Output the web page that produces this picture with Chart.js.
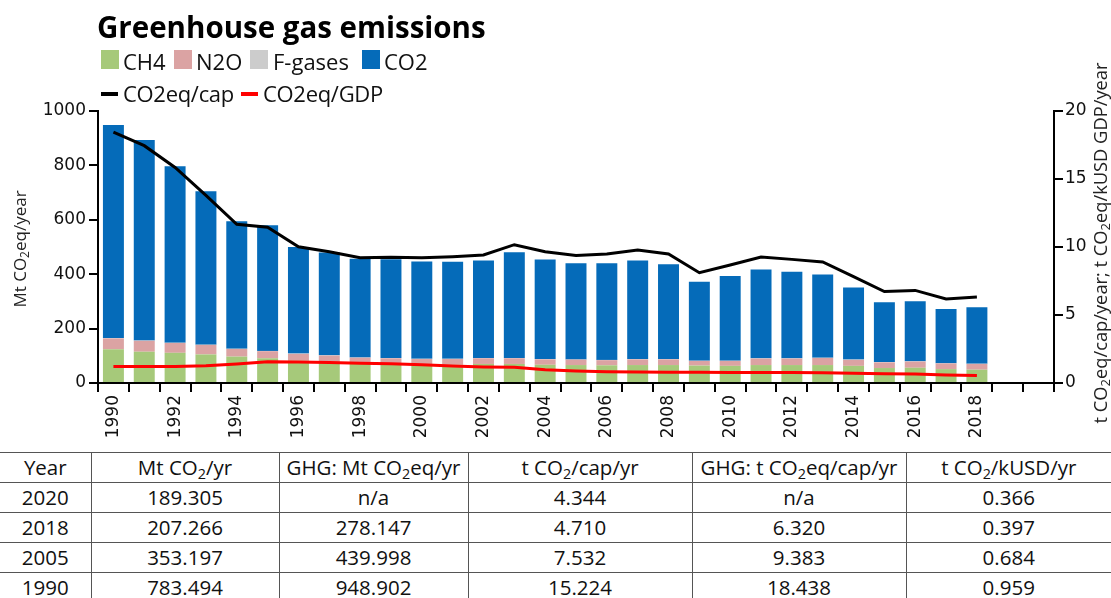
<!DOCTYPE html>
<html>
<head>
<meta charset="utf-8">
<script src="https://cdn.jsdelivr.net/npm/chart.js@4.4.1/dist/chart.umd.min.js"></script>
<style>
  html, body { margin: 0; padding: 0; background: #fff; width: 1111px; height: 598px; overflow: hidden; }
  #wrap { position: relative; width: 1111px; height: 598px; font-family: "Open Sans", sans-serif; color: #111; }
  #chart { position: absolute; left: 0; top: 0; }
  .title { position: absolute; left: 97px; top: 12px; font-size: 29.5px; line-height: 29.5px; font-weight: 700; color: #000; white-space: nowrap; }
  .lg { position: absolute; font-size: 22px; line-height: 22px; white-space: nowrap; color: #111; }
  .box { position: absolute; width: 18px; height: 19px; }
  .swatch { position: absolute; width: 17px; height: 4px; }
  table { position: absolute; left: 0; top: 452px; width: 1111px; border-collapse: collapse; table-layout: fixed;
          font-family: "Open Sans", sans-serif; font-size: 20.5px; color: #111; background: #fff; }
  td { border: 1px solid #555; height: 29px; padding: 0; line-height: 29px; text-align: center; white-space: nowrap; }
  tr td:first-child { border-left: none; }
  tr td:last-child { border-right: none; }
  sub { font-size: 70%; vertical-align: -0.25em; line-height: 0; }
</style>
</head>
<body>
<div id="wrap">
  <canvas id="chart" width="1111" height="452"></canvas>
  <div class="title">Greenhouse gas emissions</div>
  <div id="legend"></div>
  <table id="summary"></table>
</div>
<script>
// Years on the category axis
const years = ['1990','1991','1992','1993','1994','1995','1996','1997','1998','1999',
               '2000','2001','2002','2003','2004','2005','2006','2007','2008','2009',
               '2010','2011','2012','2013','2014','2015','2016','2017','2018','2019','2020'];

// Emissions by gas, Mt CO2eq/year (1990-2018)
const ch4  = [124,115,111,105,97,91,82,78,75,72,70,67,70,70,67,66,65,66,66,64,63,66,66,66,63,55,56,51,49];
const n2o  = [40,40,36,35,28,26,25,23,18,19,18,21,21,21,20,20,19,21,21,17,18,24,24,26,22,21,23,21,21];
const fgas = [1.4,1,1,1,1,1,1,1,1,1,1,1,1,1,1,0.8,1,1,1,1,1,1,1,1,1,1,1,1,0.9];
const co2  = [783.5,737,649,564,469,462,392,378,363,363,358,357,358,389,366,353.2,355,362,349,290,311,326,318,306,265,220,221,199,207.3];

// Intensity indicators (right axis)
const co2eqPerCap = [18.44,17.45,15.85,13.8,11.67,11.45,10.02,9.65,9.21,9.24,9.21,9.29,9.41,10.17,9.65,9.38,9.49,9.78,9.49,8.11,8.68,9.26,9.09,8.9,7.82,6.72,6.81,6.18,6.32];
const co2eqPerGdp = [1.22,1.22,1.22,1.27,1.4,1.57,1.54,1.5,1.45,1.42,1.35,1.25,1.18,1.15,0.97,0.88,0.83,0.81,0.79,0.79,0.78,0.78,0.77,0.76,0.71,0.68,0.66,0.59,0.55];

// Axis tick values
const leftTicks  = [0, 200, 400, 600, 800, 1000];
const rightTicks = [0, 5, 10, 15, 20];

// Summary table
const tableHeader = [['Year'], ['Mt CO', '2', '/yr'], ['GHG: Mt CO', '2', 'eq/yr'], ['t CO', '2', '/cap/yr'], ['GHG: t CO', '2', 'eq/cap/yr'], ['t CO', '2', '/kUSD/yr']];
const tableYears  = ['2020', '2018', '2005', '1990'];
const tableCO2    = ['189.305', '207.266', '353.197', '783.494'];
const tableGHG    = ['n/a', '278.147', '439.998', '948.902'];
const tableCO2cap = ['4.344', '4.710', '7.532', '15.224'];
const tableGHGcap = ['n/a', '6.320', '9.383', '18.438'];
const tableCO2gdp = ['0.366', '0.397', '0.684', '0.959'];

const colors = { ch4: '#a6c97a', n2o: '#dba3a3', fgas: '#cccccc', co2: '#056bb9', cap: '#000000', gdp: '#ff0000' };

// Legend
const legendBoxes = [
  { label: 'CH4', color: colors.ch4, box: 101, text: 123 },
  { label: 'N2O', color: colors.n2o, box: 174, text: 196 },
  { label: 'F-gases', color: colors.fgas, box: 250, text: 273 },
  { label: 'CO2', color: colors.co2, box: 362, text: 384 }
];
const legendLines = [
  { label: 'CO2eq/cap', color: colors.cap, box: 101, text: 123 },
  { label: 'CO2eq/GDP', color: colors.gdp, box: 241, text: 263 }
];
const legend = document.getElementById('legend');
legendBoxes.forEach(it => {
  legend.insertAdjacentHTML('beforeend',
    `<div class="box" style="left:${it.box}px;top:50px;background:${it.color}"></div>` +
    `<div class="lg" style="left:${it.text}px;top:49.5px">${it.label}</div>`);
});
legendLines.forEach(it => {
  legend.insertAdjacentHTML('beforeend',
    `<div class="swatch" style="left:${it.box}px;top:92px;background:${it.color}"></div>` +
    `<div class="lg" style="left:${it.text}px;top:81.5px;letter-spacing:-0.3px">${it.label}</div>`);
});

// Table
function cellHtml(parts) {
  return parts.length === 1 ? parts[0] : `${parts[0]}<sub>${parts[1]}</sub>${parts[2]}`;
}
const colWidths = [91, 188, 189, 224, 214, 205];
let html = '<colgroup>' + colWidths.map(w => `<col style="width:${w}px">`).join('') + '</colgroup>';
html += '<tr>' + tableHeader.map(h => `<td>${cellHtml(h)}</td>`).join('') + '</tr>';
tableYears.forEach((y, i) => {
  html += '<tr>' + [y, tableCO2[i], tableGHG[i], tableCO2cap[i], tableGHGcap[i], tableCO2gdp[i]]
    .map(v => `<td>${v}</td>`).join('') + '</tr>';
});
document.getElementById('summary').innerHTML = html;

// Rotated axis titles with a subscript "2"
function drawRich(ctx, parts, size, cx, cy) {
  const main = `${size}px "Open Sans"`;
  const small = `${Math.round(size * 0.72)}px "Open Sans"`;
  let w = 0;
  parts.forEach(([t, s]) => { ctx.font = s ? small : main; w += ctx.measureText(t).width; });
  let x = cx - w / 2;
  ctx.textAlign = 'left';
  ctx.textBaseline = 'middle';
  parts.forEach(([t, s]) => {
    ctx.font = s ? small : main;
    ctx.fillText(t, x, s ? cy + size * 0.25 : cy);
    x += ctx.measureText(t).width;
  });
}
const axisTitles = {
  id: 'axisTitles',
  afterDraw(chart) {
    const ctx = chart.ctx;
    const area = chart.chartArea;
    const midY = (area.top + area.bottom) / 2;
    ctx.save();
    ctx.fillStyle = '#222';
    ctx.translate(21, midY + 2);
    ctx.rotate(-Math.PI / 2);
    drawRich(ctx, [['Mt CO', false], ['2', true], ['eq/year', false]], 17, 0, 0);
    ctx.restore();
    ctx.save();
    ctx.fillStyle = '#222';
    ctx.translate(1102, midY - 4);
    ctx.rotate(-Math.PI / 2);
    drawRich(ctx, [['t CO', false], ['2', true], ['eq/cap/year; t CO', false], ['2', true], ['eq/kUSD GDP/year', false]], 18.3, 0, 0);
    ctx.restore();
  }
};

const tickFont = { family: '"DejaVu Sans", sans-serif', size: 17 };
const barCommon = { type: 'bar', yAxisID: 'y', order: 2, categoryPercentage: 0.68, barPercentage: 1.0, borderWidth: 0 };

new Chart(document.getElementById('chart'), {
  data: {
    labels: years,
    datasets: [
      { ...barCommon, label: 'CH4', data: ch4, backgroundColor: colors.ch4 },
      { ...barCommon, label: 'N2O', data: n2o, backgroundColor: colors.n2o },
      { ...barCommon, label: 'F-gases', data: fgas, backgroundColor: colors.fgas },
      { ...barCommon, label: 'CO2', data: co2, backgroundColor: colors.co2 },
      { type: 'line', label: 'CO2eq/cap', data: co2eqPerCap, yAxisID: 'y1', order: 0,
        borderColor: colors.cap, borderWidth: 3, pointRadius: 0, tension: 0, fill: false },
      { type: 'line', label: 'CO2eq/GDP', data: co2eqPerGdp, yAxisID: 'y1', order: 1,
        borderColor: colors.gdp, borderWidth: 3, pointRadius: 0, tension: 0, fill: false }
    ]
  },
  options: {
    responsive: false,
    animation: false,
    layout: { padding: { top: 111, left: 0, right: 0, bottom: 0 } },
    plugins: { legend: { display: false }, tooltip: { enabled: false }, title: { display: false } },
    scales: {
      x: {
        stacked: true,
        offset: true,
        grid: { offset: true, drawOnChartArea: false, color: '#000', lineWidth: 2, tickLength: 9 },
        border: { color: '#000', width: 2 },
        ticks: {
          autoSkip: false, minRotation: 90, maxRotation: 90, padding: 3, color: '#111', font: tickFont,
          callback: (v, i) => (i % 2 === 0 && i < co2.length) ? years[i] : ''
        },
        afterFit: s => { s.height = 452 - 383; }
      },
      y: {
        stacked: true,
        position: 'left',
        min: 0, max: 1000,
        afterBuildTicks: s => { s.ticks = leftTicks.map(v => ({ value: v })); },
        grid: { drawOnChartArea: false, color: '#000', lineWidth: 2, tickLength: 9 },
        border: { color: '#000', width: 2 },
        ticks: { padding: 3, color: '#111', font: tickFont, callback: v => String(v) },
        afterFit: s => { s.width = 98; }
      },
      y1: {
        stacked: false,
        position: 'right',
        min: 0, max: 20,
        afterBuildTicks: s => { s.ticks = rightTicks.map(v => ({ value: v })); },
        grid: { drawOnChartArea: false, color: '#000', lineWidth: 2, tickLength: 9 },
        border: { color: '#000', width: 2 },
        ticks: { padding: 2, color: '#111', font: tickFont, callback: v => String(v) },
        afterFit: s => { s.width = 1111 - 1054; }
      }
    }
  },
  plugins: [axisTitles]
});
</script>
</body>
</html>
